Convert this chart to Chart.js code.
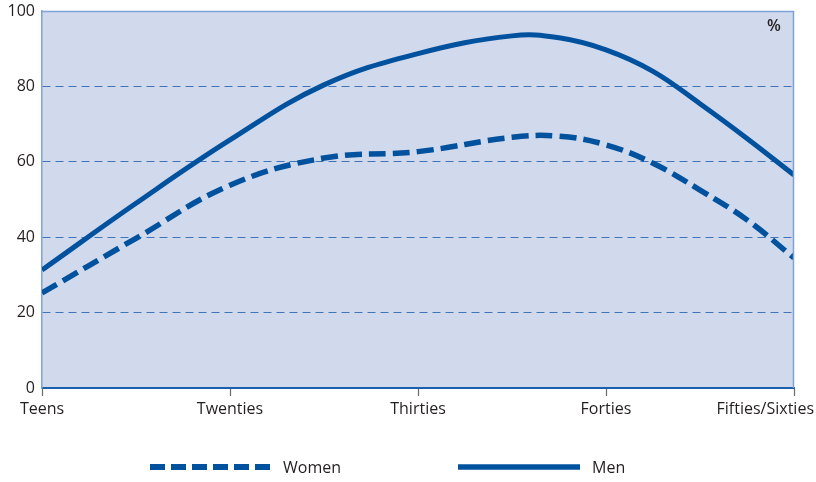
<!DOCTYPE html>
<html><head><meta charset="utf-8">
<script src="https://cdn.jsdelivr.net/npm/chart.js@4/dist/chart.umd.min.js"></script>
<style>html,body{margin:0;padding:0;background:#fff}</style>
</head><body>
<canvas id="c" width="816" height="482"></canvas>
<script>
const categories = ['Teens', 'Twenties', 'Thirties', 'Forties', 'Fifties/Sixties'];
const agePoints = [0, 0.5, 1, 1.5, 2, 2.5, 2.75, 3, 3.25, 3.5, 3.75, 4];
const menValues = [31.3, 49, 65.8, 80.4, 88.7, 93.4, 92.9, 89.7, 84, 75.4, 66.2, 56.5];
const womenValues = [25.2, 39.7, 53.8, 61, 62.7, 66.5, 66.8, 64.5, 59.6, 52.5, 44.6, 34.5];
const yTicks = [0, 20, 40, 60, 80, 100];
const unitLabel = '%';

const FONT = '"Open Sans", "DejaVu Sans", sans-serif';
const TEXT = '#231f20';
const LINE = '#00519e';

const toXY = (vals) => vals.map((v, i) => ({ x: agePoints[i], y: v }));

const decor = {
  id: 'decor',
  beforeDraw(chart) {
    const { ctx, chartArea: a } = chart;
    ctx.save();
    ctx.fillStyle = '#d1d9ec';
    ctx.fillRect(a.left, a.top, a.right - a.left, a.bottom - a.top);
    ctx.restore();
  },
  afterDraw(chart) {
    const { ctx, chartArea: a } = chart;
    const xs = chart.scales.x;
    ctx.save();
    ctx.strokeStyle = '#7ea3d6';
    ctx.lineWidth = 1.5;
    ctx.beginPath();
    ctx.moveTo(a.left, a.top + 0.5); ctx.lineTo(a.right, a.top + 0.5);
    ctx.moveTo(a.right - 0.5, a.top); ctx.lineTo(a.right - 0.5, a.bottom);
    ctx.stroke();
    ctx.font = '16px ' + FONT;
    ctx.fillStyle = TEXT;
    ctx.textBaseline = 'middle';
    ctx.textAlign = 'left';
    categories.forEach((c, i) => {
      const px = xs.getPixelForValue(i);
      const w = ctx.measureText(c).width;
      let l = px - w / 2;
      if (l + w > chart.width - 2) l = chart.width - 2 - w;
      if (l < 2) l = 2;
      ctx.fillText(c, l, a.bottom + 21);
    });
    ctx.font = '600 16px ' + FONT;
    ctx.textAlign = 'center';
    ctx.fillText(unitLabel, a.right - 20, a.top + 15);
    const ly = 467;
    const items = [
      { ds: chart.data.datasets[0], x0: 150, x1: 272, tx: 283, dash: [15, 6], w: 6 },
      { ds: chart.data.datasets[1], x0: 458, x1: 580, tx: 592, dash: [], w: 5.5 }
    ];
    items.forEach(it => {
      ctx.strokeStyle = it.ds.borderColor;
      ctx.lineWidth = it.w;
      ctx.setLineDash(it.dash);
      ctx.beginPath();
      ctx.moveTo(it.x0, ly); ctx.lineTo(it.x1, ly);
      ctx.stroke();
      ctx.setLineDash([]);
      ctx.fillStyle = TEXT;
      ctx.font = '16px ' + FONT;
      ctx.textAlign = 'left';
      ctx.fillText(it.ds.label, it.tx, ly + 1);
    });
    ctx.restore();
  }
};

new Chart(document.getElementById('c'), {
  type: 'line',
  data: {
    datasets: [
      { label: 'Women', data: toXY(womenValues), borderColor: LINE, borderWidth: 5.5,
        borderDash: [17, 7], pointRadius: 0, fill: false, tension: 0.4 },
      { label: 'Men', data: toXY(menValues), borderColor: LINE, borderWidth: 5,
        pointRadius: 0, fill: false, tension: 0.4 }
    ]
  },
  options: {
    responsive: false,
    devicePixelRatio: 1,
    animation: false,
    layout: { padding: { top: 11, right: 22, left: 0, bottom: 0 } },
    plugins: { legend: { display: false }, tooltip: { enabled: false } },
    scales: {
      x: {
        type: 'linear', min: 0, max: categories.length - 1,
        ticks: { display: false, stepSize: 1 },
        grid: { display: true, drawOnChartArea: false, drawTicks: true, tickLength: 8, color: '#6b6b6b', tickWidth: 1.2 },
        border: { display: true, color: '#1b5fae', width: 2 },
        afterFit(s) { s.height = 94; s.paddingLeft = 0; s.paddingRight = 0; }
      },
      y: {
        min: 0, max: 100,
        afterBuildTicks(s) { s.ticks = yTicks.map(v => ({ value: v })); },
        ticks: { color: TEXT, font: { family: FONT, size: 16 }, padding: 7 },
        grid: {
          drawTicks: false,
          color: (c) => (c.tick && (c.tick.value === 0 || c.tick.value === 100)) ? 'rgba(0,0,0,0)' : '#3f74bb',
          lineWidth: 1
        },
        border: { display: true, color: '#7ea3d6', width: 1.5, dash: [8, 5] },
        afterFit(s) { s.width = 42; s.paddingTop = 0; s.paddingBottom = 0; }
      }
    }
  },
  plugins: [decor]
});
</script>
</body></html>
